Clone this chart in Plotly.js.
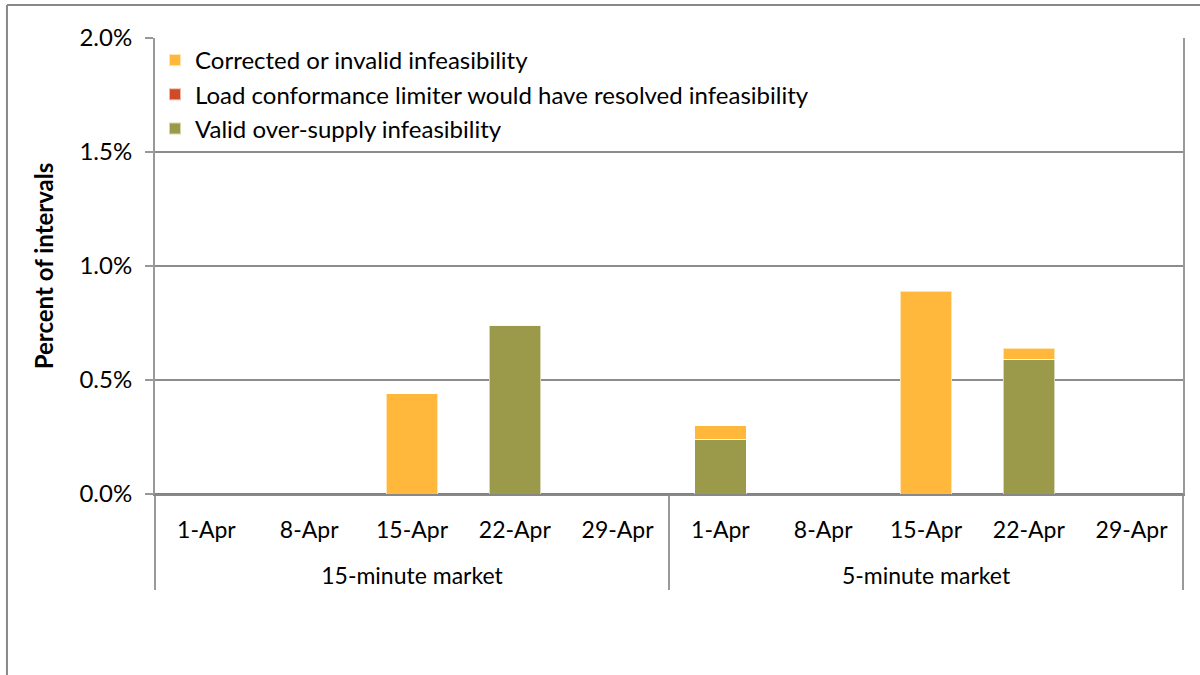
<!DOCTYPE html>
<html>
<head>
<meta charset="utf-8">
<script src="https://cdn.plot.ly/plotly-3.0.1.min.js"></script>
<style>html,body{margin:0;padding:0;background:#fff;}#chart{width:1200px;height:675px;}</style>
</head>
<body>
<div id="chart"></div>
<script>
const markets = ["15-minute market","15-minute market","15-minute market","15-minute market","15-minute market",
                 "5-minute market","5-minute market","5-minute market","5-minute market","5-minute market"];
const weeks = ["1-Apr","8-Apr","15-Apr","22-Apr","29-Apr","1-Apr","8-Apr","15-Apr","22-Apr","29-Apr"];
const validOverSupply = [0, 0, 0, 0.0074, 0, 0.0024, 0, 0, 0.0059, 0];
const loadConformance = [0, 0, 0, 0, 0, 0, 0, 0, 0, 0];
const correctedInvalid = [0, 0, 0.0044, 0, 0, 0.0006, 0, 0.0089, 0.0005, 0];
const yTicks = [0, 0.005, 0.01, 0.015, 0.02];
const yTickText = ["0.0%","0.5%","1.0%","1.5%","2.0%"];

const FONT = "Lato, 'Open Sans', sans-serif";
// outer-level labels get a leading line break so they sit lower, as in the reference
const x = [markets.map(m => "<br>" + m), weeks];
const line = {color: "rgba(255,255,255,0.6)", width: 1};
const traces = [
  {type: "bar", name: "Valid over-supply infeasibility", x: x, y: validOverSupply, marker: {color: "#9A9A4A", line: line}, hoverinfo: "y"},
  {type: "bar", name: "Load conformance limiter would have resolved infeasibility", x: x, y: loadConformance, marker: {color: "#D04A27", line: line}, hoverinfo: "y"},
  {type: "bar", name: "Corrected or invalid infeasibility", x: x, y: correctedInvalid, marker: {color: "#FFB83C", line: line}, hoverinfo: "y"}
];
const layout = {
  width: 1200, height: 675,
  margin: {l: 155, r: 17, t: 38, b: 181},
  paper_bgcolor: "#fff", plot_bgcolor: "#fff",
  barmode: "stack", bargap: 0.5,
  font: {family: FONT, size: 23, color: "#000"},
  showlegend: true,
  legend: {x: 0, y: 1, xanchor: "left", yanchor: "top", traceorder: "reversed",
           bgcolor: "rgba(255,255,255,0)", borderwidth: 0, font: {family: FONT, size: 24, color: "#000"},
           itemsizing: "constant", tracegroupgap: 0},
  xaxis: {type: "multicategory", showline: true, linecolor: "#888", linewidth: 2,
          showdividers: true, dividercolor: "#999", dividerwidth: 2,
          ticks: "", ticklabelstandoff: 14, showgrid: false,
          tickfont: {family: FONT, size: 23, color: "#000"}},
  yaxis: {range: [0, 0.02], tickvals: yTicks, ticktext: yTickText, showgrid: true, gridcolor: "#8c8c8c", gridwidth: 2,
          zeroline: true, zerolinecolor: "#808080", zerolinewidth: 2,
          showline: true, linecolor: "#999", linewidth: 2, mirror: true,
          ticks: "outside", ticklen: 8, tickcolor: "#999", tickwidth: 2, ticklabelstandoff: 8,
          tickfont: {family: FONT, size: 24, color: "#000"},
          title: {text: "Percent of intervals", font: {family: FONT, size: 24, color: "#000", weight: "bold"}, standoff: 19}},
  shapes: [
    {type: "line", xref: "paper", yref: "paper", x0: -0.144, x1: 1.03, y0: 1.0724, y1: 1.0724, line: {color: "#888", width: 2}},
    {type: "line", xref: "paper", yref: "paper", x0: -0.144, x1: -0.144, y0: 1.0724, y1: -0.45, line: {color: "#888", width: 2}}
  ]
};
Plotly.newPlot("chart", traces, layout, {displayModeBar: false, staticPlot: true});
</script>
</body>
</html>
